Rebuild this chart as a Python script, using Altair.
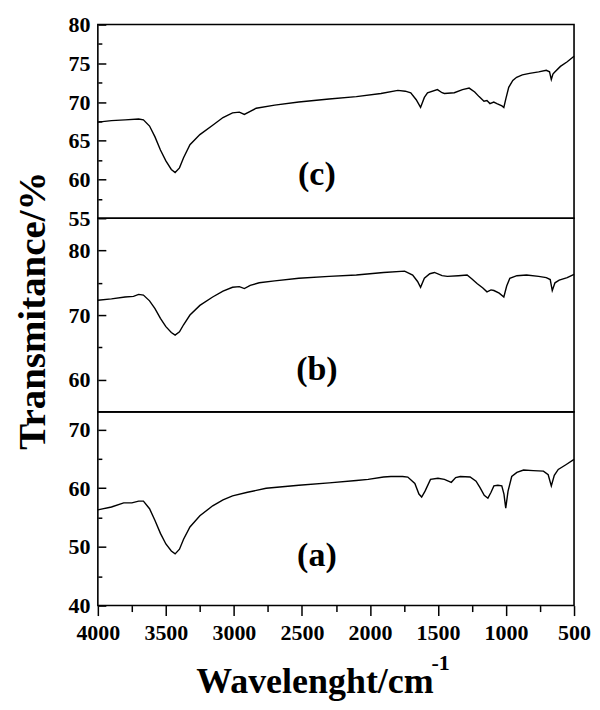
import altair as alt
import pandas as pd

# ---------------- data ----------------
wn_c = [4000, 3900, 3800, 3700, 3665, 3620, 3580, 3540, 3500, 3460, 3432, 3400, 3370, 3323,
        3250, 3156, 3080, 3010, 2960, 2923, 2880, 2836, 2700, 2523, 2300, 2100, 1919, 1795,
        1740, 1700, 1660, 1628, 1600, 1577, 1504, 1470, 1453, 1380, 1320, 1271, 1230, 1198,
        1162, 1140, 1118, 1090, 1067, 1030, 1016, 1000, 980, 950, 922, 880, 827, 760, 704,
        680, 667, 655, 645, 600, 550, 500]
t_c = [67.4, 67.6, 67.7, 67.8, 67.7, 66.9, 65.5, 63.8, 62.4, 61.3, 60.9, 61.5, 62.8, 64.5,
       65.8, 67.0, 68.0, 68.6, 68.7, 68.4, 68.8, 69.2, 69.6, 70.0, 70.4, 70.7, 71.1, 71.5,
       71.4, 71.2, 70.3, 69.3, 70.6, 71.2, 71.6, 71.2, 71.1, 71.2, 71.6, 71.8, 71.3, 70.7,
       70.1, 70.2, 69.8, 70.0, 69.8, 69.5, 69.3, 70.5, 71.9, 72.8, 73.2, 73.5, 73.7, 73.9, 74.1,
       73.9, 72.9, 73.6, 73.8, 74.6, 75.2, 75.9]

wn_b = [4000, 3900, 3800, 3738, 3700, 3665, 3620, 3580, 3540, 3500, 3460, 3432, 3400, 3370,
        3323, 3250, 3156, 3080, 3010, 2960, 2923, 2880, 2814, 2700, 2523, 2300, 2100, 1900,
        1745, 1686, 1650, 1628, 1600, 1560, 1526, 1470, 1431, 1350, 1286, 1250, 1213, 1170,
        1140, 1110, 1089, 1050, 1016, 995, 972, 920, 849, 760, 704, 675, 660, 640, 609, 550, 500]
t_b = [72.3, 72.5, 72.8, 72.9, 73.2, 73.1, 72.2, 71.0, 69.5, 68.2, 67.3, 66.9, 67.4, 68.5,
       70.0, 71.5, 72.8, 73.7, 74.3, 74.4, 74.1, 74.6, 75.0, 75.3, 75.7, 76.0, 76.2, 76.6,
       76.8, 76.2, 75.2, 74.3, 75.7, 76.4, 76.6, 76.1, 76.0, 76.1, 76.2, 75.6, 74.9, 74.2,
       73.6, 73.9, 73.8, 73.4, 72.8, 74.5, 75.7, 76.1, 76.2, 76.0, 75.8, 75.5, 73.8, 75.0, 75.4,
       75.8, 76.3]

wn_a = [4000, 3900, 3810, 3750, 3700, 3665, 3620, 3580, 3540, 3500, 3460, 3432, 3400, 3370,
        3323, 3250, 3156, 3080, 3010, 2900, 2763, 2523, 2300, 2100, 2013, 1900, 1846, 1760,
        1722, 1670, 1640, 1620, 1595, 1555, 1500, 1453, 1402, 1370, 1336, 1264, 1220, 1191,
        1160, 1133, 1110, 1089, 1060, 1031, 1015, 1002, 985, 958, 920, 871, 800, 725, 690,
        667, 645, 616, 560, 500]
t_a = [56.3, 56.8, 57.5, 57.5, 57.8, 57.8, 56.5, 54.5, 52.3, 50.5, 49.3, 48.8, 49.6, 51.3,
       53.4, 55.3, 57.0, 58.0, 58.7, 59.3, 60.0, 60.5, 60.9, 61.3, 61.5, 61.9, 62.0, 62.0,
       61.9, 60.8, 59.0, 58.5, 59.5, 61.5, 61.7, 61.5, 61.0, 61.8, 62.0, 61.9, 61.2, 60.1,
       58.8, 58.3, 59.3, 60.4, 60.5, 60.4, 59.0, 56.6, 59.5, 62.0, 62.7, 63.1, 63.0, 62.9, 62.3,
       60.4, 62.2, 63.2, 64.0, 64.9]

panel_labels = ["(c)", "(b)", "(a)"]
label_wn = [2390, 2390, 2390]
label_t = [60.6, 61.5, 48.5]

x_major = [4000, 3500, 3000, 2500, 2000, 1500, 1000, 500]
x_minor = [3750, 3250, 2750, 2250, 1750, 1250, 750]

y_dom_c = [55, 80]
y_major_c = [55, 60, 65, 70, 75, 80]
y_minor_c = [57.5, 62.5, 67.5, 72.5, 77.5]

y_dom_b = [55, 85]
y_major_b = [60, 70, 80]
y_minor_b = [65, 75]

y_dom_a = [40, 73]
y_major_a = [40, 50, 60, 70]
y_minor_a = [45, 55, 65]

x_title = "Wavelenght/cm"
x_title_sup = ["-1"]
x_title_sup_wn = [1480]
y_title = "Transmitance/%"

FONT = "Liberation Serif"
W = 477

x_scale = alt.Scale(domain=[500, 4000], reverse=True, nice=False, zero=False)


def panel(wn, t, ydom, ymaj, ymin, idx, height, bottom=False, ytitle=None):
    df = pd.DataFrame({"wn": wn, "t": t})
    ys = alt.Scale(domain=ydom, nice=False, zero=False)
    base = alt.Chart(df)

    if bottom:
        xax_main = alt.Axis(orient="bottom", values=x_major, tickSize=10, tickWidth=1.5,
                            labelPadding=7, domain=False, grid=False, labelFlush=False,
                            labelOverlap=False, format="d", title=x_title, titleFontSize=36,
                            titleX=217, titleY=87, titleAlign="center",
                            titleBaseline="alphabetic")
        xax_minor = alt.Axis(orient="bottom", values=x_minor, tickSize=6, tickWidth=1.5,
                             labels=False, domain=False, grid=False, title=None)
    else:
        xax_main = None
        xax_minor = None

    if ytitle:
        yax_main = alt.Axis(orient="left", values=ymaj, ticks=False, domain=False, grid=False,
                            labelPadding=8, labelFlush=False, labelOverlap=False, title=ytitle,
                            titleFontSize=39, titleX=-53, titleY=92, titleAngle=270,
                            titleAlign="center", titleBaseline="alphabetic")
    else:
        yax_main = alt.Axis(orient="left", values=ymaj, ticks=False, domain=False, grid=False,
                            labelPadding=8, labelFlush=False, labelOverlap=False, title=None)

    line = base.mark_line(color="black", strokeWidth=1.4).encode(
        x=alt.X("wn:Q", scale=x_scale, axis=xax_main),
        y=alt.Y("t:Q", scale=ys, axis=yax_main),
    )
    tmaj = base.mark_point(opacity=0, size=1).encode(
        x=alt.X("wn:Q", scale=x_scale, axis=xax_minor),
        y=alt.Y("t:Q", scale=ys, axis=alt.Axis(orient="left", values=ymaj, tickSize=8,
                                                offset=-8, tickWidth=1.5, labels=False,
                                                domain=False, grid=False, title=None)),
    )
    tmin = base.mark_point(opacity=0, size=1).encode(
        x=alt.X("wn:Q", scale=x_scale, axis=None),
        y=alt.Y("t:Q", scale=ys, axis=alt.Axis(orient="left", values=ymin, tickSize=4,
                                                offset=-4, tickWidth=1.5, labels=False,
                                                domain=False, grid=False, title=None)),
    )
    lab_df = pd.DataFrame({"wn": [label_wn[idx]], "t": [label_t[idx]],
                           "txt": [panel_labels[idx]]})
    lab = alt.Chart(lab_df).mark_text(font=FONT, fontWeight="bold", fontSize=34,
                                      color="black").encode(
        x=alt.X("wn:Q", scale=x_scale, axis=None),
        y=alt.Y("t:Q", scale=ys, axis=None),
        text="txt:N",
    )
    layers = [line, tmaj, tmin, lab]
    if bottom:
        sup_df = pd.DataFrame({"wn": x_title_sup_wn, "txt": x_title_sup})
        sup = alt.Chart(sup_df).mark_text(font=FONT, fontWeight="bold", fontSize=22,
                                          color="black").encode(
            x=alt.X("wn:Q", scale=x_scale, axis=None),
            y=alt.value(height + 58),
            text="txt:N",
        )
        layers.append(sup)
    return alt.layer(*layers).resolve_axis(x="independent", y="independent").properties(
        width=W, height=height)


pc = panel(wn_c, t_c, y_dom_c, y_major_c, y_minor_c, 0, 194)
pb = panel(wn_b, t_b, y_dom_b, y_major_b, y_minor_b, 1, 194, ytitle=y_title)
pa = panel(wn_a, t_a, y_dom_a, y_major_a, y_minor_a, 2, 194, bottom=True)

chart = alt.vconcat(pc, pb, pa, spacing=0, bounds="flush").configure_view(
    stroke="black", strokeWidth=1.6
).configure_axis(
    labelFont=FONT, labelFontWeight="bold", labelFontSize=22, labelColor="black",
    titleFont=FONT, titleFontWeight="bold", titleColor="black", tickColor="black",
).properties(
    padding={"left": 5, "top": 4, "right": 0, "bottom": 0}
)

chart.save("out.html", embed_options={"renderer": "svg", "actions": False})
